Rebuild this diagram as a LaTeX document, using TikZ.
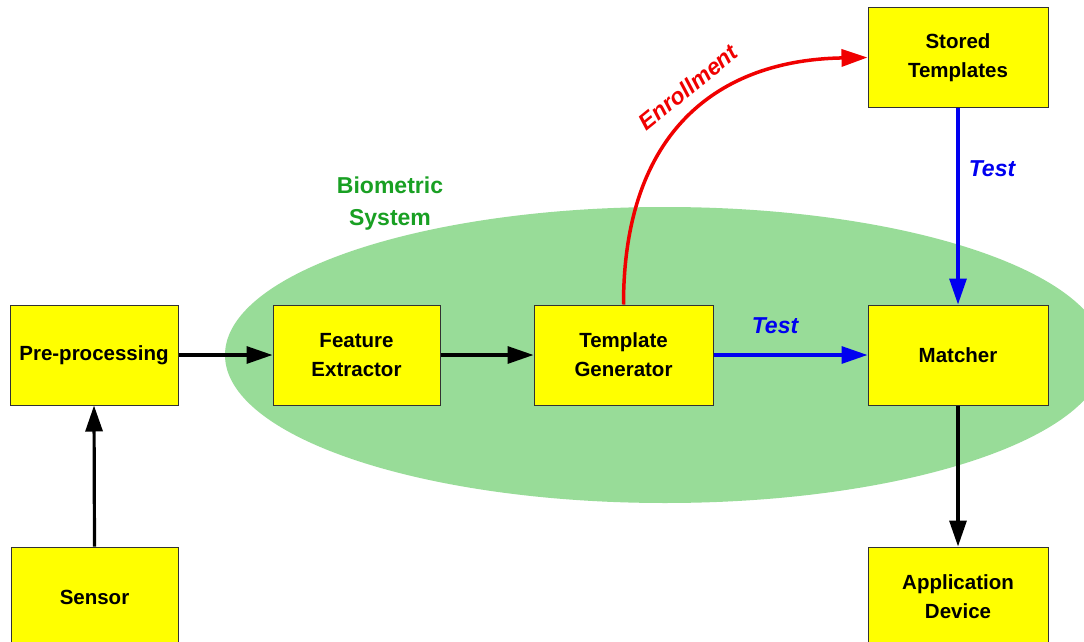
\documentclass[tikz,border=0pt]{standalone}
\usepackage{fontspec}
\setmainfont{Liberation Sans}
\usetikzlibrary{arrows.meta}
\definecolor{boxyellow}{RGB}{255,255,0}
\definecolor{ellgreen}{RGB}{152,220,152}
\definecolor{labgreen}{RGB}{25,160,35}
\definecolor{tblue}{RGB}{0,0,240}
\definecolor{ered}{RGB}{240,0,0}
\definecolor{boxline}{RGB}{50,50,50}
\tikzset{
  stepbox/.style={draw=boxline, line width=1pt, fill=boxyellow, minimum height=100pt,
    align=center, inner sep=0pt, font=\fontsize{20.5}{29}\selectfont\bfseries},
  flow/.style={line width=3.2pt, -{Triangle[length=26pt,width=17pt]}},
  lab/.style={font=\fontsize{23}{32}\selectfont\bfseries, align=center},
  itlab/.style={font=\fontsize{23}{28}\selectfont\bfseries\itshape, align=center}
}
\begin{document}
\begin{tikzpicture}[x=1pt,y=-1pt]
\useasboundingbox (0,0) rectangle (1084,642);
\clip (0,0) rectangle (1084,642);
\fill[white] (0,0) rectangle (1084,642);
\fill[ellgreen] (665,355) ellipse [x radius=440pt, y radius=148pt];
\node[lab, text=labgreen] (bio) at (390,204) {Biometric\\System};

\node[stepbox, minimum width=168pt] (pre) at (94,355) {Pre-processing};
\node[stepbox, minimum width=167pt] (sen) at (94.5,597) {Sensor};
\node[stepbox, minimum width=167pt] (fe) at (356.5,355) {Feature\\Extractor};
\node[stepbox, minimum width=179pt] (tg) at (623.5,355) {Template\\Generator};
\node[stepbox, minimum width=180pt] (ma) at (958,355) {Matcher};
\node[stepbox, minimum width=180pt, minimum height=99pt] (st) at (958,57.5) {Stored\\Templates};
\node[stepbox, minimum width=180pt] (ad) at (958,597) {Application\\Device};

\draw[flow] (sen.north) -- (pre.south);
\draw[flow] (pre.east) -- (fe.west);
\draw[flow] (fe.east) -- (tg.west);
\draw[flow, tblue] (tg.east) -- (ma.west);
\draw[flow, tblue] (st.south) -- (ma.north);
\draw[flow] (ma.south) -- (ad.north);
\draw[flow, ered, line width=3.5pt] (tg.north) .. controls +(0,-175) and (720,60) .. (st.west);

\node[itlab, text=tblue] (t1) at (775,326) {Test};
\node[itlab, text=tblue] (t2) at (992,169) {Test};
\node[itlab, text=ered, rotate=39] (en) at (688,87) {Enrollment};
\end{tikzpicture}
\end{document}
